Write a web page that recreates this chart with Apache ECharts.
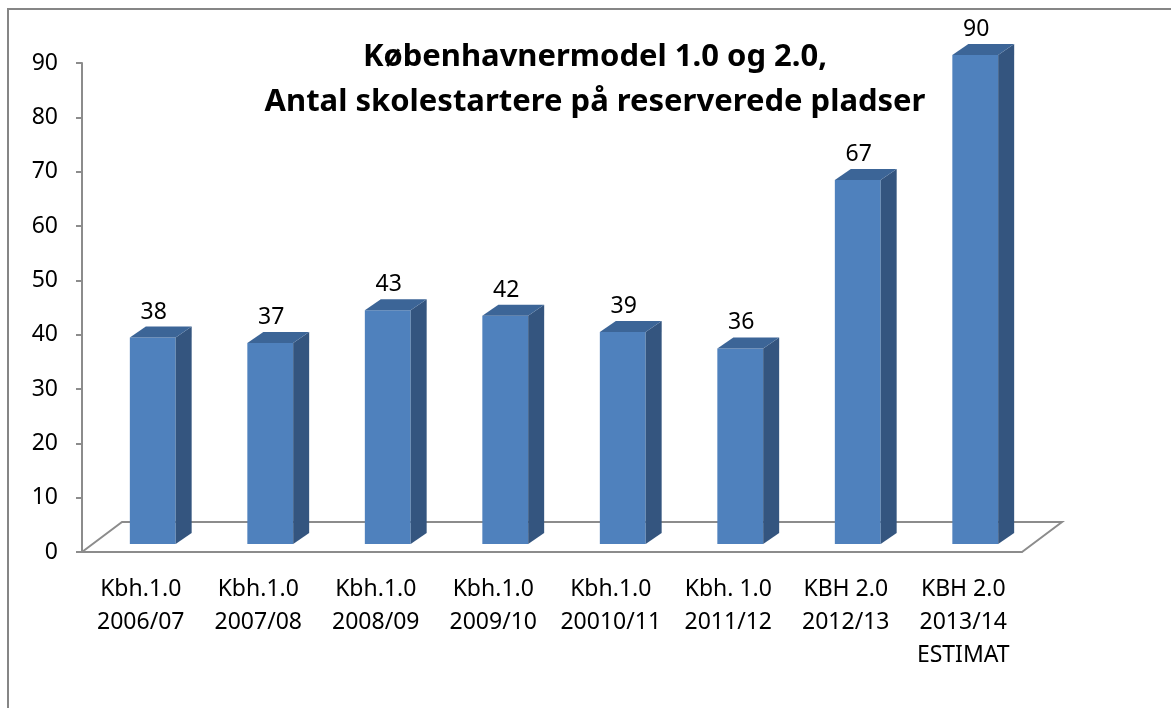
<!DOCTYPE html>
<html>
<head>
<meta charset="utf-8">
<title>Københavnermodel</title>
<script src="https://cdn.jsdelivr.net/npm/echarts@6/dist/echarts.min.js"></script>
<style>
  html, body { margin: 0; padding: 0; background: #fff; }
  #main { width: 1171px; height: 708px; }
</style>
</head>
<body>
<div id="main"></div>
<script>
var categories = [
  'Kbh.1.0\n2006/07', 'Kbh.1.0\n2007/08', 'Kbh.1.0\n2008/09', 'Kbh.1.0\n2009/10',
  'Kbh.1.0\n20010/11', 'Kbh. 1.0\n2011/12', 'KBH 2.0\n2012/13', 'KBH 2.0\n2013/14\nESTIMAT'
];
var values = [38, 37, 43, 42, 39, 36, 67, 90];
var yTicks = [0, 10, 20, 30, 40, 50, 60, 70, 80, 90];

// 3d look: floor depth and bar depth in px
var floorDX = 40, floorDY = -30;
var barShiftX = 12, barShiftY = -8;
var barDX = 16, barDY = -11;

var chart = echarts.init(document.getElementById('main'));

function renderBar(params, api) {
  var i = api.value(0);
  var v = api.value(1);
  var top = api.coord([i, v]);
  var base = api.coord([i, 0]);
  var bw = api.size([1, 0])[0] * 0.39;
  var fl = top[0] + barShiftX - bw / 2;
  var fr = fl + bw;
  var ty = top[1] + barShiftY;
  var by = base[1] + barShiftY;
  return {
    type: 'group',
    children: [
      { type: 'polygon', shape: { points: [[fl, ty], [fr, ty], [fr, by], [fl, by]] },
        style: { fill: '#4F81BD' } },
      { type: 'polygon', shape: { points: [[fr, ty], [fr + barDX, ty + barDY], [fr + barDX, by + barDY], [fr, by]] },
        style: { fill: '#34557F' } },
      { type: 'polygon', shape: { points: [[fl, ty], [fl + barDX, ty + barDY], [fr + barDX, ty + barDY], [fr, ty]] },
        style: { fill: '#3C6597' } },
      { type: 'text', style: { text: String(v), x: (fl + fr) / 2 + 1, y: ty + barDY - 3,
        align: 'center', verticalAlign: 'bottom', fill: '#000',
        font: '23px "Noto Sans"' } }
    ]
  };
}

function renderFloor(params, api) {
  var bw = api.size([1, 0])[0];
  var a = api.coord([0, 0]);
  var b = api.coord([categories.length - 1, 0]);
  var L = a[0] - bw / 2, R = b[0] + bw / 2, y = a[1];
  return {
    type: 'polyline',
    shape: { points: [[L, y], [L + floorDX, y + floorDY], [R + floorDX, y + floorDY], [R, y]] },
    style: { stroke: '#8C8C8C', lineWidth: 2, fill: null }
  };
}

chart.setOption({
  animation: false,
  title: {
    text: 'Københavnermodel 1.0 og 2.0,\nAntal skolestartere på reserverede pladser',
    left: 590, top: 30, textAlign: 'center',
    textStyle: { fontFamily: 'Noto Sans', fontWeight: 'bold', fontSize: 31, lineHeight: 45, color: '#000' }
  },
  graphic: [{
    type: 'rect', shape: { x: 8, y: 9, width: 1300, height: 900 },
    style: { fill: null, stroke: '#868686', lineWidth: 2 }, z: -1
  }],
  grid: { left: 82, right: 149, top: 63, bottom: 156 },
  xAxis: {
    type: 'category',
    data: categories,
    axisLine: { lineStyle: { color: '#8C8C8C', width: 2 } },
    axisTick: { length: 9, lineStyle: { color: '#8C8C8C', width: 2 } },
    axisLabel: { color: '#000', fontFamily: 'Noto Sans', fontSize: 23, lineHeight: 33, margin: 21, interval: 0 }
  },
  yAxis: {
    type: 'value',
    min: yTicks[0], max: yTicks[yTicks.length - 1], interval: yTicks[1] - yTicks[0],
    splitLine: { show: false },
    axisLine: { show: true, lineStyle: { color: '#8C8C8C', width: 2 } },
    axisTick: { show: true, length: 6, lineStyle: { color: '#8C8C8C', width: 2 } },
    axisLabel: { color: '#000', fontFamily: 'Noto Sans', fontSize: 23, margin: 24 }
  },
  series: [
    { type: 'custom', renderItem: renderFloor, data: [[0, 0]], z: 1, silent: true },
    { type: 'custom', renderItem: renderBar, z: 2,
      data: values.map(function (v, i) { return [i, v]; }) }
  ]
});
</script>
</body>
</html>
